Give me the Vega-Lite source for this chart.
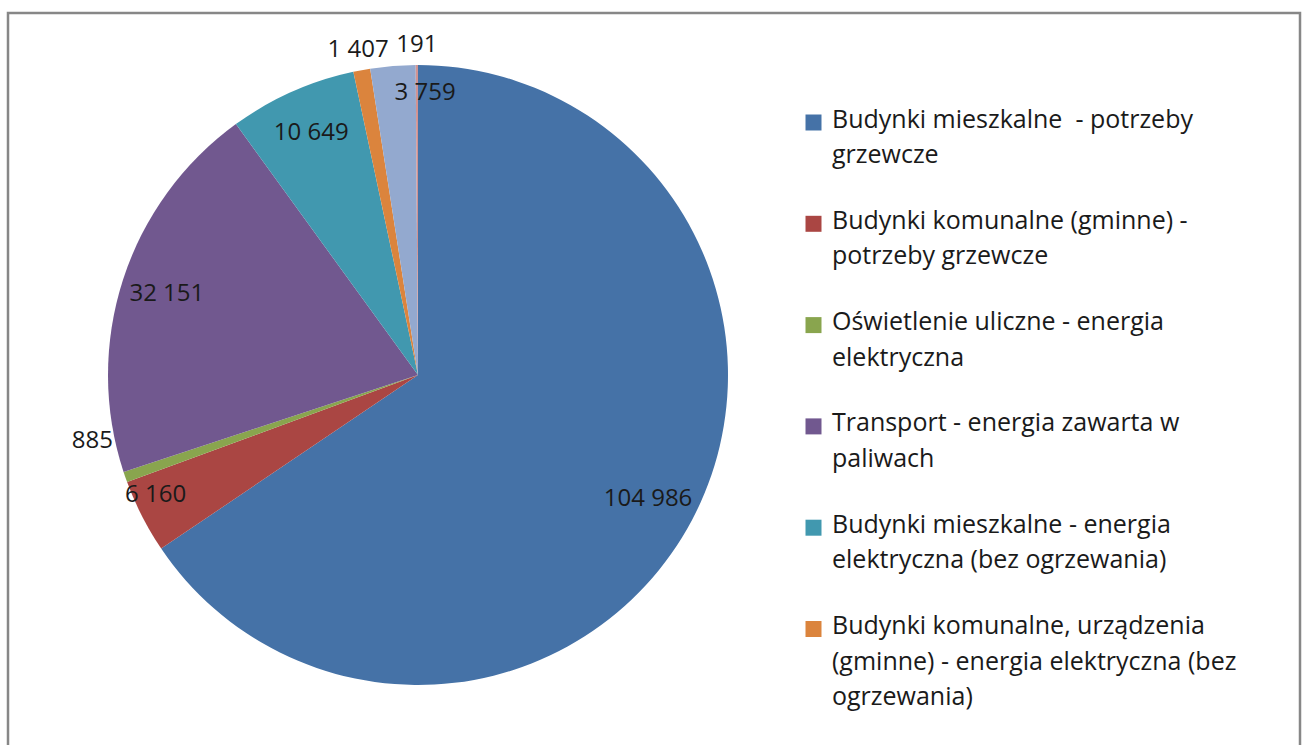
{
  "$schema": "https://vega.github.io/schema/vega-lite/v6.json",
  "autosize": {"type": "none"},
  "width": 1292,
  "height": 732,
  "padding": {"left": 8, "top": 13, "right": 2, "bottom": 0},
  "background": "white",
  "view": {"stroke": "#878787", "strokeWidth": 2.5, "strokeDash": [2024, 1292, 760], "fill": "white"},
  "config": {
    "font": "Open Sans",
    "locale": {"number": {"decimal": ",", "thousands": " ", "grouping": [3], "currency": ["", " zł"]}}
  },
  "data": {
    "values": [
      {"idx": 1, "category": "Budynki mieszkalne  - potrzeby grzewcze", "value": 104986},
      {"idx": 2, "category": "Budynki komunalne (gminne) - potrzeby grzewcze", "value": 6160},
      {"idx": 3, "category": "Oświetlenie uliczne - energia elektryczna", "value": 885},
      {"idx": 4, "category": "Transport - energia zawarta w paliwach", "value": 32151},
      {"idx": 5, "category": "Budynki mieszkalne - energia elektryczna (bez ogrzewania)", "value": 10649},
      {"idx": 6, "category": "Budynki komunalne, urządzenia (gminne) - energia elektryczna (bez ogrzewania)", "value": 1407},
      {"idx": 7, "category": "Pozostałe 1", "value": 3759},
      {"idx": 8, "category": "Pozostałe 2", "value": 191}
    ]
  },
  "encoding": {
    "theta": {"field": "value", "type": "quantitative", "stack": true},
    "order": {"field": "idx", "type": "quantitative"},
    "x": {"value": 410},
    "y": {"value": 362}
  },
  "layer": [
    {
      "mark": {"type": "arc", "outerRadius": 310},
      "encoding": {
        "color": {
          "field": "category",
          "type": "nominal",
          "scale": {
            "domain": [
              "Budynki mieszkalne  - potrzeby grzewcze",
              "Budynki komunalne (gminne) - potrzeby grzewcze",
              "Oświetlenie uliczne - energia elektryczna",
              "Transport - energia zawarta w paliwach",
              "Budynki mieszkalne - energia elektryczna (bez ogrzewania)",
              "Budynki komunalne, urządzenia (gminne) - energia elektryczna (bez ogrzewania)",
              "Pozostałe 1",
              "Pozostałe 2"
            ],
            "range": ["#4572A7", "#AA4643", "#89A54E", "#71588F", "#4198AF", "#DB843D", "#93A9CF", "#D19392"]
          },
          "legend": {
            "title": null,
            "orient": "none",
            "legendX": 793,
            "legendY": 97,
            "padding": 0,
            "values": [
              "Budynki mieszkalne  - potrzeby grzewcze",
              "Budynki komunalne (gminne) - potrzeby grzewcze",
              "Oświetlenie uliczne - energia elektryczna",
              "Transport - energia zawarta w paliwach",
              "Budynki mieszkalne - energia elektryczna (bez ogrzewania)",
              "Budynki komunalne, urządzenia (gminne) - energia elektryczna (bez ogrzewania)"
            ],
            "symbolType": "square",
            "symbolSize": 256,
            "symbolStrokeWidth": 0,
            "labelFont": "Open Sans",
            "labelFontSize": 25,
            "labelColor": "#1a1a1a",
            "labelLimit": 800,
            "labelOffset": 6,
            "labelBaseline": "top",
            "rowPadding": 40.3,
            "labelExpr": "datum.label == 'Budynki mieszkalne  - potrzeby grzewcze' ? ['Budynki mieszkalne \u00a0- potrzeby', 'grzewcze'] : datum.label == 'Budynki komunalne (gminne) - potrzeby grzewcze' ? ['Budynki komunalne (gminne) -', 'potrzeby grzewcze'] : datum.label == 'Oświetlenie uliczne - energia elektryczna' ? ['Oświetlenie uliczne - energia', 'elektryczna'] : datum.label == 'Transport - energia zawarta w paliwach' ? ['Transport - energia zawarta w', 'paliwach'] : datum.label == 'Budynki mieszkalne - energia elektryczna (bez ogrzewania)' ? ['Budynki mieszkalne - energia', 'elektryczna (bez ogrzewania)'] : ['Budynki komunalne, urządzenia', '(gminne) - energia elektryczna (bez', 'ogrzewania)']",
            "encode": {"labels": {"update": {"lineHeight": {"value": 35.5}, "dy": {"value": -15}}}}
          }
        }
      }
    },
    {
      "mark": {"type": "text", "radius": 265, "dx": -4, "fontSize": 24, "font": "Open Sans", "color": "#1a1a1a"},
      "encoding": {
        "detail": {"field": "category"},
        "text": {"field": "value", "type": "quantitative", "format": ",d"},
        "opacity": {"condition": {"test": "datum.idx == 1", "value": 1}, "value": 0}
      }
    },
    {
      "mark": {"type": "text", "radius": 265, "dx": 1, "fontSize": 24, "font": "Open Sans", "color": "#1a1a1a"},
      "encoding": {
        "detail": {"field": "category"},
        "text": {"field": "value", "type": "quantitative", "format": ",d"},
        "opacity": {"condition": {"test": "datum.idx == 4 || datum.idx == 5", "value": 1}, "value": 0}
      }
    },
    {
      "mark": {"type": "text", "radius": 287, "dx": -7, "dy": -11, "fontSize": 24, "font": "Open Sans", "color": "#1a1a1a"},
      "encoding": {
        "detail": {"field": "category"},
        "text": {"field": "value", "type": "quantitative", "format": ",d"},
        "opacity": {"condition": {"test": "datum.idx == 2", "value": 1}, "value": 0}
      }
    },
    {
      "mark": {"type": "text", "radius": 283, "dx": 30, "fontSize": 24, "font": "Open Sans", "color": "#1a1a1a"},
      "encoding": {
        "detail": {"field": "category"},
        "text": {"field": "value", "type": "quantitative", "format": ",d"},
        "opacity": {"condition": {"test": "datum.idx == 7", "value": 1}, "value": 0}
      }
    },
    {
      "mark": {"type": "text", "radius": 330, "fontSize": 24, "font": "Open Sans", "color": "#1a1a1a"},
      "encoding": {
        "detail": {"field": "category"},
        "text": {"field": "value", "type": "quantitative", "format": ",d"},
        "opacity": {"condition": {"test": "datum.idx == 6 || datum.idx == 8", "value": 1}, "value": 0}
      }
    },
    {
      "mark": {"type": "text", "radius": 330, "dx": -14, "dy": -43, "fontSize": 24, "font": "Open Sans", "color": "#1a1a1a"},
      "encoding": {
        "detail": {"field": "category"},
        "text": {"field": "value", "type": "quantitative", "format": ",d"},
        "opacity": {"condition": {"test": "datum.idx == 3", "value": 1}, "value": 0}
      }
    }
  ]
}
